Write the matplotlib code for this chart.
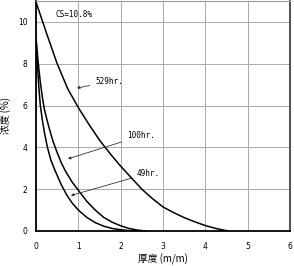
import matplotlib
matplotlib.use('Agg')
import matplotlib.pyplot as plt

plt.rcParams['font.family'] = ['DejaVu Sans', 'Noto Sans CJK SC']

# Values (thickness m/m -> concentration %)
x_529 = [0.0, 0.25, 0.5, 0.75, 1.0, 1.25, 1.5, 1.75, 2.0, 2.25, 2.5, 2.75,
         3.0, 3.25, 3.5, 3.75, 4.0, 4.25, 4.54]
y_529 = [10.95, 9.45, 8.0, 6.8, 5.9, 5.1, 4.35, 3.7, 3.1, 2.55, 2.0, 1.55,
         1.15, 0.88, 0.64, 0.44, 0.26, 0.12, 0.0]

x_100 = [0.0, 0.05, 0.1, 0.15, 0.2, 0.3, 0.4, 0.5, 0.6, 0.7, 0.85, 1.0,
         1.2, 1.4, 1.6, 1.8, 2.0, 2.2, 2.4, 2.6]
y_100 = [9.25, 8.1, 7.15, 6.4, 5.8, 5.0, 4.3, 3.75, 3.25, 2.85, 2.35, 1.95,
         1.42, 1.0, 0.65, 0.42, 0.25, 0.12, 0.04, 0.0]

x_49 = [0.0, 0.03, 0.07, 0.1, 0.15, 0.2, 0.27, 0.35, 0.45, 0.6, 0.73, 0.85,
        1.0, 1.2, 1.4, 1.6, 1.8, 2.0, 2.2, 2.45]
y_49 = [9.2, 8.0, 6.8, 6.05, 5.3, 4.7, 4.0, 3.4, 2.89, 2.2, 1.71, 1.35,
        1.0, 0.65, 0.4, 0.23, 0.12, 0.06, 0.02, 0.0]

x_ticks = [0, 1, 2, 3, 4, 5, 6]
y_ticks = [0, 2, 4, 6, 8, 10]

fig = plt.figure(figsize=(2.94, 2.66), dpi=100)
ax = fig.add_axes([36 / 294, 1 - 231 / 266, 254 / 294, 230 / 266])

for xs, ys in [(x_529, y_529), (x_100, y_100), (x_49, y_49)]:
    ax.plot(xs, ys, color='black', linewidth=1.1, solid_joinstyle='round')

ax.set_xlim(0, 6)
ax.set_ylim(0, 11)
ax.set_xticks(x_ticks)
ax.set_yticks(y_ticks)
ax.tick_params(length=0, labelsize=5.5)
ax.tick_params(axis='x', pad=8)
ax.tick_params(axis='y', pad=6)
ax.grid(True, color='#aaaaaa', linewidth=0.7)
ax.set_axisbelow(True)

ax.spines['left'].set_linewidth(1.3)
ax.spines['bottom'].set_linewidth(1.3)
ax.spines['top'].set_color('#999999')
ax.spines['right'].set_color('#333333')
ax.spines['right'].set_linewidth(1.2)

mono = 'DejaVu Sans Mono'
ax.text(0.47, 10.35, 'CS=10.8%', fontsize=5.5, family=mono, va='center')

arrow = dict(arrowstyle='-|>', color='#333333', linewidth=0.6, mutation_scale=4)
ax.annotate('529hr.', xy=(0.9, 6.81), xytext=(1.4, 7.14), fontsize=5.5,
            family=mono, va='center', arrowprops=arrow)
ax.annotate('100hr.', xy=(0.69, 3.41), xytext=(2.15, 4.55), fontsize=5.5,
            family=mono, va='center', arrowprops=arrow)
ax.annotate('49hr.', xy=(0.76, 1.66), xytext=(2.37, 2.75), fontsize=5.5,
            family=mono, va='center', arrowprops=arrow)

cjk = ['Noto Sans CJK SC', 'DejaVu Sans']
ax.set_xlabel('厚度 (m/m)', fontsize=7, family=cjk, labelpad=2)
ax.set_ylabel('浓度 (%)', fontsize=7, family=cjk, labelpad=5)

fig.savefig('out.png', dpi=100)
